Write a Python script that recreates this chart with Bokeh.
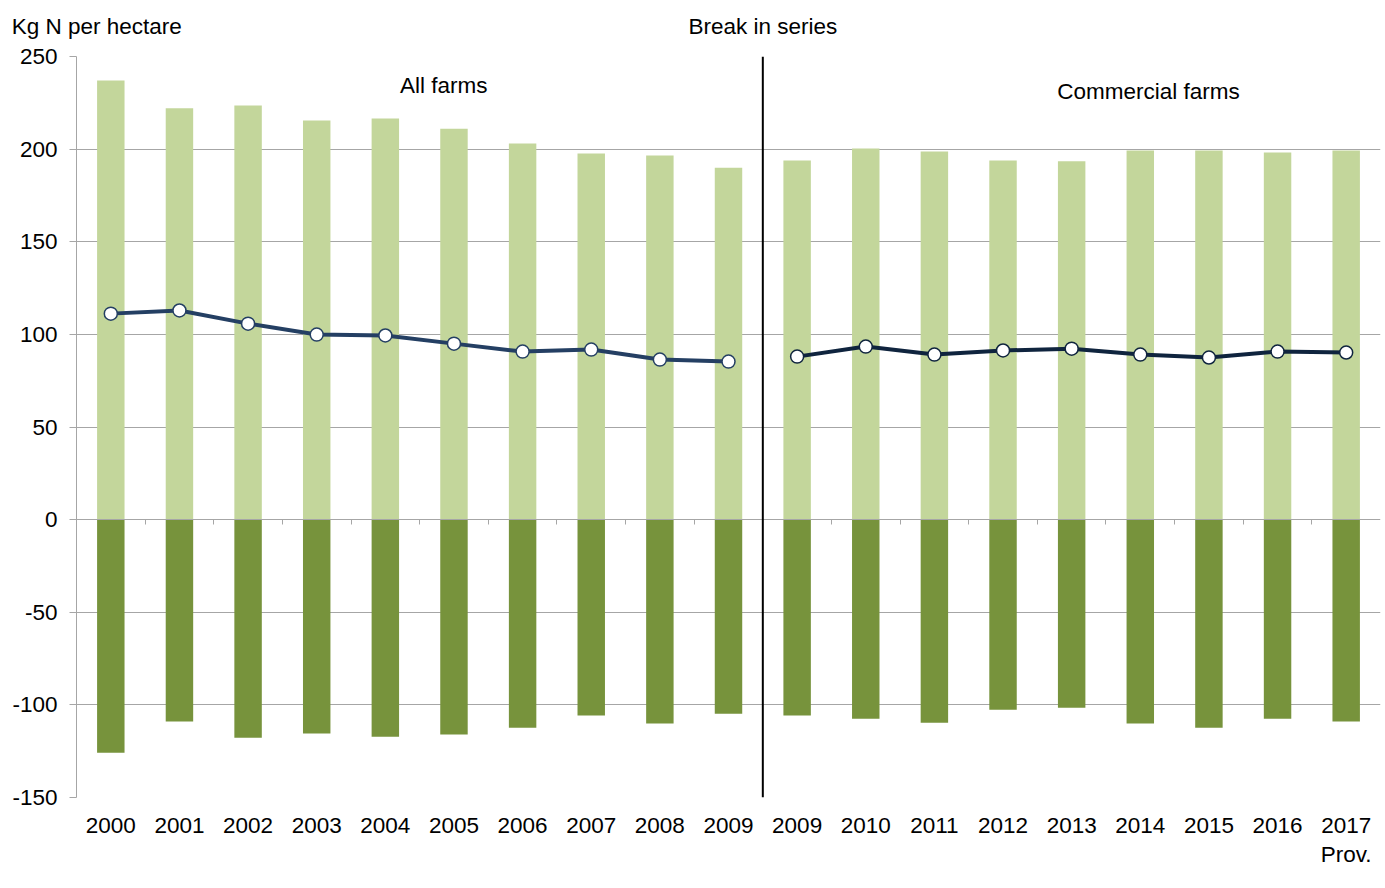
from bokeh.plotting import figure
from bokeh.models import (LinearAxis, FixedTicker, Span, Label, Legend, LegendItem,
                          ColumnDataSource, Range1d)
from bokeh.embed import file_html
from bokeh.resources import INLINE

years = ["2000", "2001", "2002", "2003", "2004", "2005", "2006", "2007", "2008", "2009",
         "2009", "2010", "2011", "2012", "2013", "2014", "2015", "2016", "2017"]
year_notes = {18: "Prov."}  # second line under a year label
n_inputs = [237, 222, 223.5, 215.4, 216.5, 211, 203, 197.6, 196.5, 190,
            193.8, 200.3, 198.7, 193.8, 193.5, 199.2, 199.2, 198.2, 199.2]
n_offtake = [-125.8, -109, -117.7, -115.5, -117.2, -116, -112.3, -105.8, -110, -104.8,
             -105.8, -107.5, -109.6, -102.6, -101.5, -110, -112.3, -107.5, -109]
n_balance = [111.2, 112.9, 105.8, 99.9, 99.4, 95, 90.7, 91.8, 86.4, 85.3,
             88, 93.4, 89.1, 91.3, 92.3, 89.1, 87.5, 90.7, 90.2]
y_ticks = [-150, -100, -50, 0, 50, 100, 150, 200, 250]
break_index = 10  # first category of the "Commercial farms" series

FONT = "Liberation Sans"
FS = "22.5px"
C_IN = "#c3d69b"
C_OFF = "#77933c"
C_BAL1 = "#243f63"
C_BAL2 = "#0f243e"
GRID = "#a6a6a6"

n = len(years)
xs = [i + 0.5 for i in range(n)]

p = figure(frame_width=1304, frame_height=741, output_backend="svg", toolbar_location=None,
           x_range=Range1d(0, n), y_range=Range1d(y_ticks[0], y_ticks[-1]),
           min_border_left=76, min_border_top=56, min_border_right=5, min_border_bottom=0)
p.outline_line_color = None

# y axis
p.yaxis.ticker = FixedTicker(ticks=y_ticks)
p.yaxis.major_label_overrides = {t: str(t) for t in y_ticks}
p.yaxis.axis_line_color = GRID
p.yaxis.major_tick_line_color = GRID
p.yaxis.major_tick_out = 7
p.yaxis.major_tick_in = 0
p.yaxis.minor_tick_line_color = None
p.yaxis.major_label_text_font = FONT
p.yaxis.major_label_text_font_size = FS
p.yaxis.major_label_text_color = "black"
p.yaxis.major_label_standoff = 12
p.ygrid.grid_line_color = GRID
p.ygrid.ticker = FixedTicker(ticks=[t for t in y_ticks if t != 0])
p.xgrid.grid_line_color = None

# x axis with labels at category centers
p.xaxis.ticker = FixedTicker(ticks=xs)
p.xaxis.major_label_overrides = {x: y for x, y in zip(xs, years)}
p.xaxis.axis_line_color = None
p.xaxis.major_tick_line_color = None
p.xaxis.minor_tick_line_color = None
p.xaxis.major_label_text_font = FONT
p.xaxis.major_label_text_font_size = FS
p.xaxis.major_label_text_color = "black"
p.xaxis.major_label_standoff = 14

# second row of category labels ("Prov.")
note_axis = LinearAxis(ticker=FixedTicker(ticks=[xs[i] for i in year_notes]),
                       major_label_overrides={xs[i]: t for i, t in year_notes.items()},
                       axis_line_color=None, major_tick_line_color=None, minor_tick_line_color=None,
                       major_label_text_font=FONT, major_label_text_font_size=FS,
                       major_label_text_color="black", major_label_standoff=0)
p.add_layout(note_axis, "below")

# zero axis line with downward ticks at category boundaries (kept in the top panel so
# that it takes no room below the plot)
zero_axis = LinearAxis(fixed_location=0, ticker=FixedTicker(ticks=list(range(1, n))),
                       axis_line_color=GRID, major_tick_line_color=GRID,
                       major_tick_out=0, major_tick_in=5, minor_tick_line_color=None,
                       major_label_standoff=0,
                       major_label_text_font_size="0px", major_label_text_color=None)
p.add_layout(zero_axis, "above")

# texts above the plot area, carried by an axis without line or ticks
top_texts = {0.34: "Kg N per  hectare", float(break_index): "Break in series"}
top_axis = LinearAxis(ticker=FixedTicker(ticks=list(top_texts.keys())),
                      major_label_overrides=top_texts,
                      axis_line_color=None, major_tick_line_color=None, minor_tick_line_color=None,
                      major_label_text_font=FONT, major_label_text_font_size=FS,
                      major_label_text_color="black", major_label_standoff=12)
p.add_layout(top_axis, "above")

src = ColumnDataSource(dict(x=xs, inputs=n_inputs, offtake=n_offtake, balance=n_balance))
r_in = p.vbar(x="x", top="inputs", bottom=0, width=0.4, fill_color=C_IN, line_color=None, source=src)
r_off = p.vbar(x="x", top=0, bottom="offtake", width=0.4, fill_color=C_OFF, line_color=None, source=src)

s1 = ColumnDataSource(dict(x=xs[:break_index], y=n_balance[:break_index]))
s2 = ColumnDataSource(dict(x=xs[break_index:], y=n_balance[break_index:]))
l1 = p.line("x", "y", source=s1, line_color=C_BAL1, line_width=4)
c1 = p.scatter("x", "y", source=s1, size=13, fill_color="white", line_color=C_BAL1, line_width=1.5)
l2 = p.line("x", "y", source=s2, line_color=C_BAL2, line_width=4)
c2 = p.scatter("x", "y", source=s2, size=13, fill_color="white", line_color=C_BAL2, line_width=1.5)

p.add_layout(Span(location=break_index, dimension="height", line_color="black", line_width=2))

def lab(text, x, y):
    p.add_layout(Label(x=x, y=y, text=text, text_align="center", text_baseline="middle",
                       text_font=FONT, text_font_size=FS, text_color="black"))

lab("All farms", 5.35, 234.3)
lab("Commercial farms", 15.62, 231.1)

legend = Legend(items=[LegendItem(label="N inputs", renderers=[r_in]),
                       LegendItem(label="N offtake", renderers=[r_off]),
                       LegendItem(label="N balance", renderers=[l1, c1])],
                orientation="horizontal", location="center",
                label_text_font=FONT, label_text_font_size=FS, label_text_color="black",
                label_text_line_height=0.5, label_height=12,
                glyph_width=38, glyph_height=12, label_standoff=2, spacing=34,
                padding=0, margin=0, border_line_color=None, background_fill_alpha=0)
p.add_layout(legend, "below")

open("out.html", "w").write(file_html(p, INLINE))
